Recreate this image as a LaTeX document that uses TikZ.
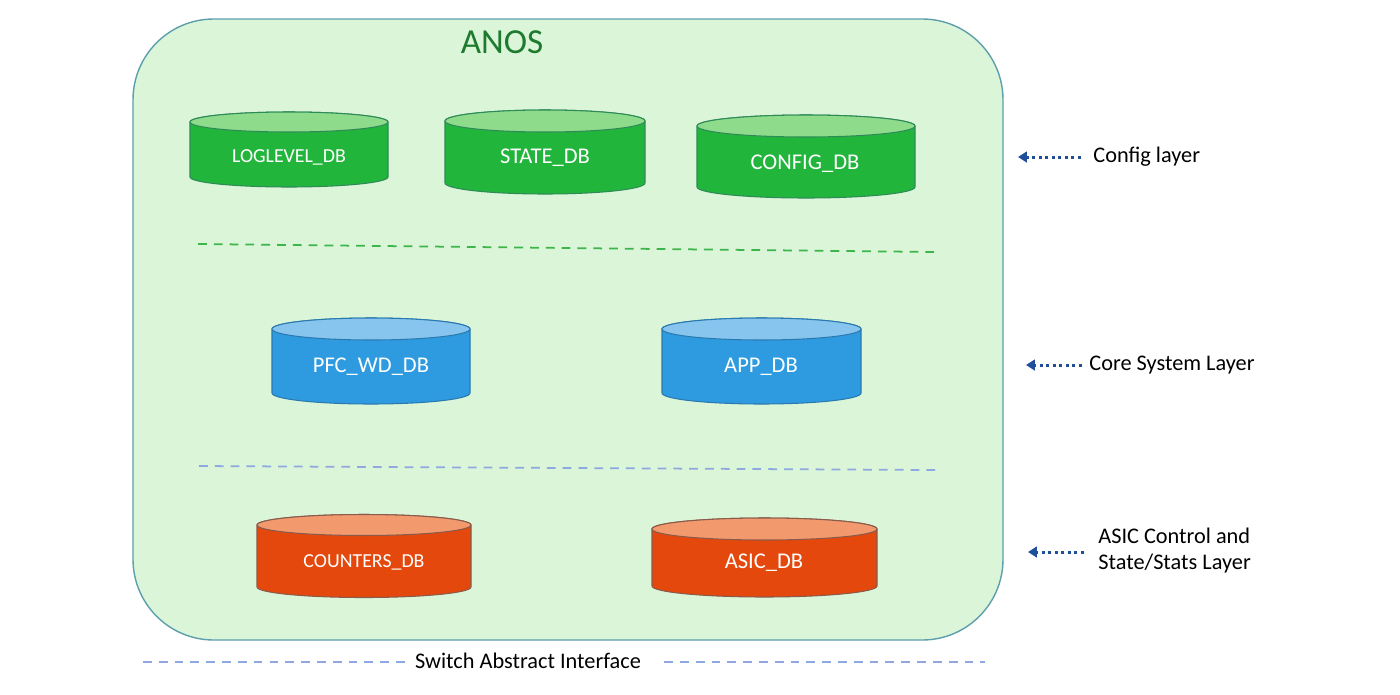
\documentclass[tikz,border=0pt]{standalone}
\usepackage{fontspec}
\setmainfont{Carlito}
\usetikzlibrary{arrows.meta}
\definecolor{panel}{HTML}{DBF5D8}
\definecolor{panelborder}{HTML}{5E9FAE}
\definecolor{gbody}{HTML}{22B53C}
\definecolor{gtop}{HTML}{8FDB8C}
\definecolor{gline}{HTML}{2E8B57}
\definecolor{bbody}{HTML}{2E9BE0}
\definecolor{btop}{HTML}{88C5EE}
\definecolor{bline}{HTML}{2A7AB0}
\definecolor{obody}{HTML}{E5480C}
\definecolor{otop}{HTML}{F29A6E}
\definecolor{oline}{HTML}{8A5A4A}
\definecolor{titlegreen}{HTML}{1E7A2E}
\definecolor{sepgreen}{HTML}{3CB54A}
\definecolor{sepblue}{HTML}{8FA8E0}
\definecolor{arrowblue}{HTML}{1F4E9A}
\newcommand{\dbcyl}[8]{% x1 x2 yc yb ry body top border
  \pgfmathsetmacro{\cx}{(#1+#2)/2}
  \pgfmathsetmacro{\rx}{(#2-#1)/2}
  \filldraw[fill=#6,draw=#8,line width=0.6pt] (#1,-#3) -- (#1,-#4)
    arc[start angle=180,end angle=360,x radius=\rx,y radius=#5] -- (#2,-#3)
    arc[start angle=0,end angle=180,x radius=\rx,y radius=#5] -- cycle;
  \filldraw[fill=#7,draw=#8,line width=0.6pt] (\cx,-#3) ellipse[x radius=\rx,y radius=#5];
}
\tikzset{
  dblabel/.style={text=white,font=\fontsize{12.8}{14}\selectfont,inner sep=0pt},
  dblabelsmall/.style={dblabel,font=\fontsize{11.3}{13}\selectfont},
  sidelabel/.style={text=black,font=\fontsize{12.7}{14.8}\selectfont,anchor=west,inner sep=0pt,align=left},
  layerarrow/.style={draw=arrowblue,line width=1.7pt,dash pattern=on 1.7pt off 2pt,-{Triangle[length=5pt,width=6pt]}},
  sepline/.style={line width=1pt,dash pattern=on 5pt off 4pt},
}
\begin{document}
\begin{tikzpicture}[x=0.02cm,y=0.02cm]
\useasboundingbox[fill=white] (0,0) rectangle (1400,-694);
% container
\filldraw[fill=panel,draw=panelborder,line width=0.8pt,rounded corners=46pt] (133,-19) rectangle (1003,-640);
\node[text=titlegreen,font=\fontsize{20}{23}\selectfont] (title) at (502,-42) {ANOS};
% config layer
\dbcyl{190}{388}{122}{177}{10}{gbody}{gtop}{gline}
\node[dblabelsmall] (loglevel) at (289,-157) {LOGLEVEL\_DB};
\dbcyl{445}{645}{121}{183}{11}{gbody}{gtop}{gline}
\node[dblabel] (state) at (545,-158) {STATE\_DB};
\dbcyl{697}{915}{126}{187}{11}{gbody}{gtop}{gline}
\node[dblabel] (config) at (805,-164) {CONFIG\_DB};
% separator
\coordinate (sg1) at (198,-244); \coordinate (sg2) at (935,-252);
\draw[sepline,draw=sepgreen] (sg1) -- (sg2);
% core layer
\dbcyl{272}{470}{329}{393}{11}{bbody}{btop}{bline}
\node[dblabel] (pfc) at (371,-367) {PFC\_WD\_DB};
\dbcyl{662}{861}{329}{393}{11}{bbody}{btop}{bline}
\node[dblabel] (app) at (761,-367) {APP\_DB};
% separator
\coordinate (sb1) at (199,-466); \coordinate (sb2) at (935,-470);
\draw[sepline,draw=sepblue] (sb1) -- (sb2);
% asic layer
\dbcyl{257}{471}{525}{587}{10.5}{obody}{otop}{oline}
\node[dblabelsmall] (counters) at (364,-562) {COUNTERS\_DB};
\dbcyl{652}{877}{529}{586}{11}{obody}{otop}{oline}
\node[dblabel] (asic) at (764,-563) {ASIC\_DB};
% bottom interface
\node[text=black,font=\fontsize{12.7}{15}\selectfont,inner sep=0pt] (sai) at (528,-661) {Switch Abstract Interface};
\coordinate (sai1) at (143,-662); \coordinate (sai2) at (985,-662);
\draw[sepline,draw=sepblue] (sai1) -- ([xshift=-3pt]sai.west |- sai1);
\draw[sepline,draw=sepblue] ([xshift=13pt]sai.east |- sai2) -- (sai2);
% side labels
\node[sidelabel] (lconfig) at (1093,-157) {Config layer};
\coordinate (e1) at (1018,-157);
\draw[layerarrow] ([xshift=-7pt]lconfig.west) -- (e1);
\node[sidelabel] (lcore) at (1089,-365) {Core System Layer};
\coordinate (e2) at (1026,-365);
\draw[layerarrow] ([xshift=-4pt]lcore.west) -- (e2);
\node[sidelabel] (lasic) at (1098,-551) {ASIC Control and\\State/Stats Layer};
\coordinate (e3) at (1028,-552);
\draw[layerarrow] ([xshift=-8pt]lasic.west |- e3) -- (e3);
\end{tikzpicture}
\end{document}
